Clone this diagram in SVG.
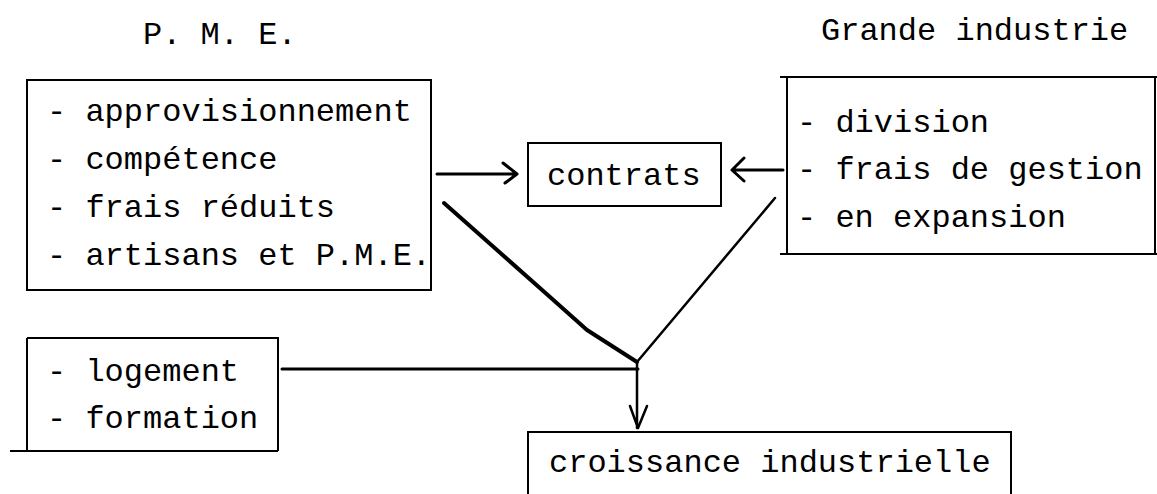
<svg xmlns="http://www.w3.org/2000/svg" width="1157" height="494" viewBox="0 0 1157 494">
<style>
.t{font-family:"Liberation Mono","DejaVu Sans Mono",monospace;font-size:32px;fill:#000}
.b{fill:none;stroke:#000;stroke-width:2}
.c{fill:none;stroke:#000;stroke-width:3;stroke-linecap:round;stroke-linejoin:round}
</style>
<rect width="1157" height="494" fill="#fff"/>
<g id="title-pme"><text class="t" x="143" y="44">P. M. E.</text></g>
<g id="title-grande"><text class="t" x="821" y="40">Grande industrie</text></g>
<g id="pme">
<rect class="b" x="27" y="80" width="404" height="210"/>
<text class="t" x="47" y="121">- approvisionnement</text>
<text class="t" x="47" y="169">- compétence</text>
<text class="t" x="47" y="217">- frais réduits</text>
<text class="t" x="47" y="265">- artisans et P.M.E.</text>
</g>
<g id="contrats">
<rect class="b" x="528" y="143" width="193" height="63"/>
<text class="t" x="547" y="185">contrats</text>
</g>
<g id="grande">
<path class="b" d="M780 77H1157M780 254H1157M787 77V254M1155 77V254"/>
<text class="t" x="797" y="132">- division</text>
<text class="t" x="797" y="179">- frais de gestion</text>
<text class="t" x="797" y="227">- en expansion</text>
</g>
<g id="social">
<path class="b" d="M27 338H278V451M10 451H278M27 338V451"/>
<text class="t" x="47" y="381">- logement</text>
<text class="t" x="47" y="428">- formation</text>
</g>
<g id="croissance">
<path class="b" d="M528 494V432H1011V494"/>
<text class="t" x="549" y="472">croissance industrielle</text>
</g>
<g id="connectors">
<path class="c" d="M437 174H517M503 163L517 174L505 183"/>
<path class="c" d="M783 170H732M744 158L732 170L744 181"/>
<path class="c" style="stroke-width:4" d="M444 203L550 297L587 330L637 362"/>
<path class="c" style="stroke-width:2.5" d="M775 198L637 362"/>
<path class="c" d="M282 369H638"/>
<path class="c" style="stroke-width:2.5" d="M637 362V428M630 406L638 428L647 406"/>
</g>
</svg>
